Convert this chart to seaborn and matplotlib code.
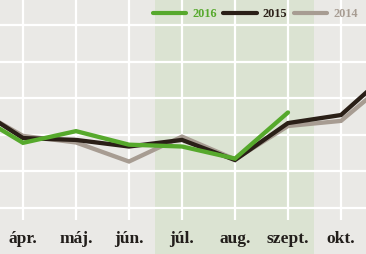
import matplotlib
matplotlib.use("Agg")
import matplotlib.pyplot as plt
import seaborn as sns
import numpy as np
import pandas as pd
from matplotlib.lines import Line2D

# ---- data ----
months = ["márc.", "ápr.", "máj.", "jún.", "júl.", "aug.", "szept.", "okt.", "nov."]
month_pos = [-1, 0, 1, 2, 3, 4, 5, 6, 7]
tick_labels = ["ápr.", "máj.", "jún.", "júl.", "aug.", "szept.", "okt."]
tick_pos = [0, 1, 2, 3, 4, 5, 6]
values_2014 = [2.79, 1.97, 1.79, 1.27, 1.95, 1.33, 2.24, 2.38, 3.59]
values_2015 = [2.84, 1.91, 1.86, 1.68, 1.86, 1.31, 2.32, 2.54, 3.83]
values_2016 = [2.65, 1.78, 2.10, 1.73, 1.68, 1.35, 2.61]
grid_levels = [0, 1, 2, 3, 4, 5]
shade_span = (2.5, 5.5)

df = pd.concat([
    pd.DataFrame({"x": month_pos, "v": values_2014, "year": "2014"}),
    pd.DataFrame({"x": month_pos, "v": values_2015, "year": "2015"}),
    pd.DataFrame({"x": month_pos[:len(values_2016)], "v": values_2016, "year": "2016"}),
])

colors = {"2016": "#56A92C", "2015": "#2A1F17", "2014": "#A79C92"}
text_colors = {"2016": "#56A92C", "2015": "#2A1F17", "2014": "#A79C92"}

sns.set_theme(style="white")
plt.rcParams["font.family"] = ["Liberation Serif", "DejaVu Serif"]

fig = plt.figure(figsize=(3.66, 2.54), dpi=100)
bg = "#EAE9E6"
fig.patch.set_facecolor(bg)
ax = fig.add_axes([0, 0, 1, 1])
ax.set_facecolor(bg)
for s in ax.spines.values():
    s.set_visible(False)

ax.set_xlim(-0.434, 6.472)
ax.set_ylim(-1.257, 5.683)

ax.axvspan(*shade_span, color="#DBE3D2", zorder=0, lw=0)
for g in grid_levels:
    ax.axhline(g, color="white", lw=1.6, zorder=1)
ax.vlines(tick_pos, -0.33, 5.683, color="white", lw=1.6, zorder=1)

for yr in ["2014", "2015", "2016"]:
    sub = df[df["year"] == yr]
    sns.lineplot(data=sub, x="x", y="v", color=colors[yr], lw=3.1, ax=ax,
                 zorder=3, legend=False, solid_joinstyle="miter", sort=False)

ax.set_xticks([])
ax.set_yticks([])
ax.set_xlabel("")
ax.set_ylabel("")
for p, lab in zip(tick_pos, tick_labels):
    ax.text(p, -0.95, lab, ha="center", va="baseline", fontsize=12.5,
            fontweight="bold", color="#221E1B")

handles = [Line2D([], [], color=colors[y], lw=3.0) for y in ["2016", "2015", "2014"]]
leg = ax.legend(handles, ["2016", "2015", "2014"], loc="upper right",
                bbox_to_anchor=(1.0, 1.0), ncol=3, frameon=False,
                handlelength=2.75, handletextpad=0.5, columnspacing=0.5,
                borderaxespad=0.25, prop={"family": "Liberation Serif", "weight": "bold", "size": 8.8})
for t, y in zip(leg.get_texts(), ["2016", "2015", "2014"]):
    t.set_color(text_colors[y])

fig.savefig("out.png", dpi=100, facecolor=bg)
